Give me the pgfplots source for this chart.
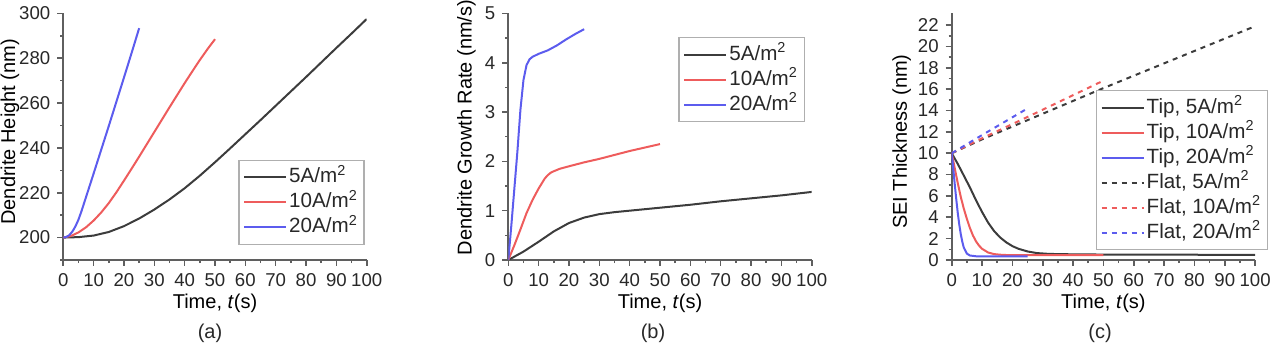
\documentclass[border=0pt]{standalone}
\usepackage{fontspec}
\setmainfont{Liberation Sans}
\usepackage{pgfplots}
\pgfplotsset{compat=1.18}

\definecolor{cblk}{RGB}{60,60,60}
\definecolor{cred}{RGB}{238,92,92}
\definecolor{cblu}{RGB}{92,92,238}
\definecolor{caxis}{RGB}{95,95,95}
\definecolor{clegd}{RGB}{175,175,175}
\definecolor{ctext}{RGB}{40,40,40}

\newcommand{\fst}{\fontsize{9.3}{10.5}\selectfont}
\newcommand{\fsl}{\fontsize{10}{11.5}\selectfont}
\newcommand{\fsg}{\fontsize{10.3}{11.5}\selectfont}

\pgfplotsset{
  panel/.style={
    scale only axis, width=151.7pt, height=123.3pt, anchor=south west,
    axis x line*=bottom, axis y line*=left,
    axis line style={caxis, line width=0.9pt},
    tick align=outside, major tick length=3pt, minor tick length=1.6pt,
    tick style={caxis, line width=0.8pt},
    /pgf/number format/assume math mode=true,
    tick label style={font=\fst, text=ctext},
    label style={font=\fsl, text=ctext},
    xmin=0, xmax=100, xtick={0,10,...,100}, minor x tick num=1,
    xlabel={Time, \textit{t}(s)},
    every axis x label/.style={at={(axis description cs:0.5,-0.174)}, anchor=center},
    legend cell align=left,
    legend image code/.code={\draw[##1] (0pt,0pt) -- (21pt,0pt);},
    legend style={draw=clegd, line width=0.7pt, font=\fsg, text=ctext,
      inner sep=2.2pt, row sep=0pt,
      nodes={inner sep=1pt, text height=8pt, text depth=2.5pt}},
    every axis plot/.append style={line width=1pt},
  },
}

\begin{document}
\begin{tikzpicture}
\useasboundingbox (0,0) rectangle (640pt,173.5pt);

% (a) dendrite height
\begin{axis}[panel, at={(31.65pt,43.5pt)},
  ymin=190, ymax=300, ytick={200,220,...,300}, minor ytick={190,210,...,290},
  ylabel={Dendrite Height (nm)},
  every axis y label/.style={at={(axis description cs:-0.176,0.52)}, anchor=center, rotate=90},
  legend style={at={(rel axis cs:0.994,0.061)}, anchor=south east},
]
\addplot[cblk] coordinates {(0,200) (5,200.2) (10,200.9) (15,202.5) (20,205.1) (25,208.5) (30,212.5) (35,217) (40,222) (45,227.6) (50,233.6) (55,239.8) (60,246.1) (65,252.4) (70,258.8) (75,265.2) (80,271.6) (85,278.1) (90,284.6) (95,291) (100,297.5)};
\addplot[cred] coordinates {(0,200) (2.5,200.7) (5,202.3) (7.5,204.6) (10,207.6) (12.5,211.2) (15,215.4) (17.5,220.2) (20,225.4) (22.5,230.7) (25,236.1) (27.5,241.6) (30,247.1) (32.5,252.6) (35,258.1) (37.5,263.5) (40,268.9) (42.5,274.1) (45,279.2) (47.5,284) (50,288.5)};
\addplot[cblu] coordinates {(0,200) (1,200.3) (2,201.1) (3,202.7) (4,205) (5,208) (6,211.8) (7,216) (8,220.2) (9,224.4) (10,228.6) (12.5,239.2) (15,249.8) (17.5,260.6) (20,271.4) (22.5,282.3) (25,293.4)};
\legend{5A/m\textsuperscript{2}, 10A/m\textsuperscript{2}, 20A/m\textsuperscript{2}}
\end{axis}

% (b) growth rate
\begin{axis}[panel, at={(254.15pt,43.5pt)},
  ymin=0, ymax=5, ytick={0,1,...,5}, minor y tick num=1,
  ylabel={Dendrite Growth Rate (nm/s)},
  every axis y label/.style={at={(axis description cs:-0.138,0.537)}, anchor=center, rotate=90},
  legend style={at={(rel axis cs:0.978,0.904)}, anchor=north east},
]
\addplot[cblk] coordinates {(0,0) (5,0.17) (10,0.37) (15,0.58) (20,0.75) (25,0.86) (30,0.93) (35,0.97) (40,1.0) (50,1.06) (60,1.12) (70,1.19) (80,1.25) (90,1.31) (100,1.38)};
\addplot[cred] coordinates {(0,0) (2,0.3) (4,0.62) (6,0.95) (8,1.22) (10,1.45) (12,1.65) (13,1.72) (14,1.77) (15,1.8) (17,1.85) (20,1.9) (25,1.98) (30,2.05) (35,2.13) (40,2.21) (45,2.28) (50,2.35)};
\addplot[cblu] coordinates {(0,0) (1,0.7) (2,1.45) (3,2.2) (4,3.05) (5,3.65) (6,3.95) (7,4.07) (8,4.12) (10,4.18) (13,4.25) (16,4.35) (19,4.47) (22,4.58) (25,4.68)};
\legend{5A/m\textsuperscript{2}, 10A/m\textsuperscript{2}, 20A/m\textsuperscript{2}}
\end{axis}

% (c) SEI thickness
\begin{axis}[panel, at={(475.85pt,43.5pt)},
  ymin=0, ymax=23.1, ytick={0,2,...,22}, minor y tick num=1,
  ylabel={SEI Thickness (nm)},
  every axis y label/.style={at={(axis description cs:-0.165,0.48)}, anchor=center, rotate=90},
  legend style={at={(rel axis cs:1.043,0.04)}, anchor=south east},
]
\addplot[cblk] coordinates {(0,10) (2,9.0) (4,7.9) (6,6.8) (8,5.6) (10,4.5) (12,3.5) (14,2.7) (16,2.1) (18,1.65) (20,1.3) (22,1.05) (25,0.8) (28,0.65) (32,0.57) (40,0.53) (50,0.51) (100,0.48)};
\addplot[cred] coordinates {(0,10) (1,8.6) (2,7.2) (3,5.9) (4,4.8) (5,3.85) (6,3.0) (7,2.3) (8,1.75) (9,1.35) (10,1.05) (12,0.7) (14,0.55) (17,0.47) (25,0.45) (50,0.45)};
\addplot[cblu] coordinates {(0,10) (0.5,8.6) (1,7.1) (1.5,5.7) (2,4.4) (2.5,3.3) (3,2.4) (3.5,1.7) (4,1.15) (5,0.6) (6,0.42) (8,0.35) (25,0.35)};
\addplot[cblk, dash pattern=on 2.5pt off 2.5pt] coordinates {(0,10) (10,11.3) (25,13.1) (50,16.1) (75,19.0) (100,21.9)};
\addplot[cred, dash pattern=on 2.5pt off 2.5pt] coordinates {(0,10) (10,11.4) (25,13.4) (50,16.8)};
\addplot[cblu, dash pattern=on 2.5pt off 2.5pt] coordinates {(0,10) (10,11.7) (25,14.2)};
\legend{Tip{,} 5A/m\textsuperscript{2}, Tip{,} 10A/m\textsuperscript{2}, Tip{,} 20A/m\textsuperscript{2}, Flat{,} 5A/m\textsuperscript{2}, Flat{,} 10A/m\textsuperscript{2}, Flat{,} 20A/m\textsuperscript{2}}
\end{axis}

\node[font=\fsl, text=ctext] at (105pt,7pt) {(a)};
\node[font=\fsl, text=ctext] at (326.5pt,7pt) {(b)};
\node[font=\fsl, text=ctext] at (550pt,7pt) {(c)};
\end{tikzpicture}
\end{document}
